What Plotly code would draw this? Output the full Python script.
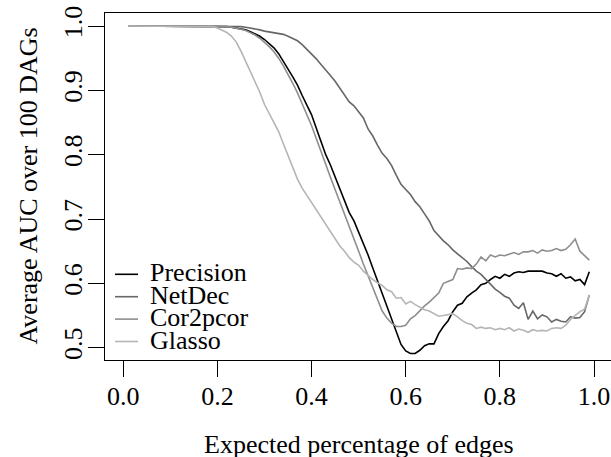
import plotly.graph_objects as go

# ---- data ----
x_vals = [round(0.01 * i, 2) for i in range(1, 100)]

precision = [1.0] * 21 + [
    0.999, 0.998, 0.997, 0.996, 0.994, 0.991, 0.988, 0.984, 0.979,          # 0.22-0.30
    0.972, 0.966, 0.957, 0.946, 0.933, 0.921, 0.908, 0.892, 0.876, 0.862,   # 0.31-0.40
    0.841, 0.820, 0.800, 0.784, 0.766, 0.745, 0.727, 0.710, 0.697, 0.680,   # 0.41-0.50
    0.662, 0.644, 0.624, 0.604, 0.584, 0.563, 0.544, 0.522, 0.505, 0.495,   # 0.51-0.60
    0.491, 0.491, 0.496, 0.503, 0.506, 0.506, 0.522, 0.533, 0.542, 0.556,   # 0.61-0.70
    0.566, 0.569, 0.579, 0.585, 0.590, 0.598, 0.600, 0.606, 0.611, 0.608,   # 0.71-0.80
    0.614, 0.611, 0.616, 0.618, 0.617, 0.619, 0.619, 0.618, 0.619, 0.616,   # 0.81-0.90
    0.615, 0.611, 0.615, 0.608, 0.610, 0.604, 0.606, 0.598, 0.618,          # 0.91-0.99
]

netdec = [1.0] * 24 + [
    0.999, 0.998, 0.997, 0.996, 0.994, 0.992,                               # 0.25-0.30
    0.991, 0.990, 0.989, 0.987, 0.984, 0.981, 0.977, 0.971, 0.964, 0.957,   # 0.31-0.40
    0.949, 0.940, 0.932, 0.923, 0.914, 0.903, 0.892, 0.882, 0.876, 0.866,   # 0.41-0.50
    0.857, 0.840, 0.829, 0.815, 0.802, 0.794, 0.783, 0.768, 0.754, 0.746,   # 0.51-0.60
    0.738, 0.727, 0.719, 0.708, 0.697, 0.682, 0.674, 0.666, 0.660, 0.652,   # 0.61-0.70
    0.646, 0.640, 0.634, 0.626, 0.619, 0.614, 0.606, 0.598, 0.591, 0.586,   # 0.71-0.80
    0.580, 0.577, 0.566, 0.561, 0.570, 0.544, 0.557, 0.545, 0.551, 0.548,   # 0.81-0.90
    0.540, 0.544, 0.541, 0.540, 0.548, 0.546, 0.547, 0.556, 0.582,          # 0.91-0.99
]

cor2pcor = [1.0] * 21 + [
    0.999, 0.998, 0.997, 0.995, 0.993, 0.990, 0.986, 0.981, 0.975,          # 0.22-0.30
    0.968, 0.960, 0.950, 0.938, 0.925, 0.911, 0.896, 0.880, 0.862, 0.845,   # 0.31-0.40
    0.824, 0.803, 0.785, 0.765, 0.746, 0.728, 0.708, 0.690, 0.672, 0.650,   # 0.41-0.50
    0.630, 0.612, 0.594, 0.574, 0.557, 0.546, 0.538, 0.533, 0.533, 0.535,   # 0.51-0.60
    0.545, 0.550, 0.558, 0.565, 0.571, 0.578, 0.585, 0.600, 0.603, 0.606,   # 0.61-0.70
    0.623, 0.622, 0.624, 0.623, 0.630, 0.641, 0.635, 0.644, 0.641, 0.644,   # 0.71-0.80
    0.643, 0.645, 0.648, 0.645, 0.649, 0.649, 0.651, 0.647, 0.652, 0.650,   # 0.81-0.90
    0.651, 0.654, 0.651, 0.653, 0.660, 0.669, 0.650, 0.643, 0.636,          # 0.91-0.99
]

glasso = [1.0] * 18 + [
    0.999, 0.997,                                                           # 0.19-0.20
    0.994, 0.990, 0.984, 0.975, 0.961, 0.945, 0.930, 0.913, 0.897, 0.878,   # 0.21-0.30
    0.864, 0.848, 0.836, 0.817, 0.798, 0.780, 0.762, 0.748, 0.737, 0.726,   # 0.31-0.40
    0.715, 0.703, 0.693, 0.682, 0.670, 0.658, 0.650, 0.640, 0.633, 0.628,   # 0.41-0.50
    0.619, 0.612, 0.606, 0.601, 0.597, 0.590, 0.587, 0.577, 0.578, 0.568,   # 0.51-0.60
    0.572, 0.567, 0.563, 0.559, 0.557, 0.553, 0.549, 0.550, 0.551, 0.553,   # 0.61-0.70
    0.548, 0.542, 0.538, 0.536, 0.530, 0.532, 0.530, 0.531, 0.528, 0.530,   # 0.71-0.80
    0.528, 0.531, 0.526, 0.529, 0.527, 0.524, 0.528, 0.526, 0.527, 0.526,   # 0.81-0.90
    0.530, 0.531, 0.530, 0.535, 0.544, 0.550, 0.556, 0.560, 0.582,          # 0.91-0.99
]

series_names = ["Precision", "NetDec", "Cor2pcor", "Glasso"]
series_values = [precision, netdec, cor2pcor, glasso]
series_colors = ["#000000", "#676767", "#8e8e8e", "#b5b5b5"]

x_ticks = [0.0, 0.2, 0.4, 0.6, 0.8, 1.0]
x_tick_labels = ["0.0", "0.2", "0.4", "0.6", "0.8", "1.0"]
y_ticks = [0.5, 0.6, 0.7, 0.8, 0.9, 1.0]
y_tick_labels = ["0.5", "0.6", "0.7", "0.8", "0.9", "1.0"]

x_title = "Expected percentage of edges"
y_title = "Average AUC over 100 DAGs"

# ---- layout geometry (pixels) ----
W, H = 611, 457
ML, MT, MB, MR = 105, 13, 97, 0
PW, PH = W - ML - MR, H - MT - MB
FONT = "Liberation Serif"
FS = 26


def px_x(p):
    return (p - ML) / PW


def px_y(p):
    return (H - MB - p) / PH


fig = go.Figure()
for name, vals, col in zip(series_names, series_values, series_colors):
    fig.add_trace(go.Scatter(x=x_vals, y=vals, mode="lines", name=name,
                             line=dict(color=col, width=1.6), showlegend=False))

fig.update_layout(
    width=W, height=H,
    margin=dict(l=ML, r=MR, t=MT, b=MB, pad=0, autoexpand=False),
    paper_bgcolor="white", plot_bgcolor="white",
    font=dict(family=FONT, size=FS, color="black"),
    showlegend=False,
)
fig.update_xaxes(range=[-0.0389, 1.0361], tickvals=x_ticks, ticktext=x_tick_labels,
                 automargin=False,
                 showgrid=False, zeroline=False, showline=True, linecolor="black",
                 linewidth=1.3, mirror=True, ticks="outside", ticklen=16,
                 tickwidth=1.3, tickcolor="black", ticklabelstandoff=-3,
                 tickfont=dict(family=FONT, size=FS, color="black"))
fig.update_yaxes(range=[0.4809, 1.0202], tickvals=y_ticks, ticktext=y_tick_labels,
                 automargin=False,
                 tickangle=-90, showgrid=False, zeroline=False, showline=True,
                 linecolor="black", linewidth=1.3, mirror=False, ticks="outside",
                 ticklen=16, tickwidth=1.3, tickcolor="black", ticklabelstandoff=-5,
                 tickfont=dict(family=FONT, size=FS, color="black"))

# axis titles
fig.add_annotation(text=x_title, xref="paper", yref="paper", x=px_x(358.7), y=px_y(444),
                   xanchor="center", yanchor="middle", showarrow=False,
                   font=dict(family=FONT, size=FS, color="black"))
fig.add_annotation(text=y_title, xref="paper", yref="paper", x=px_x(28), y=0.5,
                   xanchor="center", yanchor="middle", textangle=-90, showarrow=False,
                   font=dict(family=FONT, size=FS, color="black"))

# legend (drawn manually, R style)
leg_rows = [274.3, 296.7, 319.1, 341.5]
for name, col, ry in zip(series_names, series_colors, leg_rows):
    fig.add_shape(type="line", xref="paper", yref="paper",
                  x0=px_x(115), x1=px_x(138), y0=px_y(ry), y1=px_y(ry),
                  line=dict(color=col, width=1.6))
    fig.add_annotation(text=name, xref="paper", yref="paper", x=px_x(148), y=px_y(ry - 1.5),
                       xanchor="left", yanchor="middle", showarrow=False,
                       font=dict(family=FONT, size=FS, color="black"))

fig.write_html("out.html", config={"displayModeBar": False},
               post_script="document.body.style.margin='0';document.body.style.overflow='hidden';")
